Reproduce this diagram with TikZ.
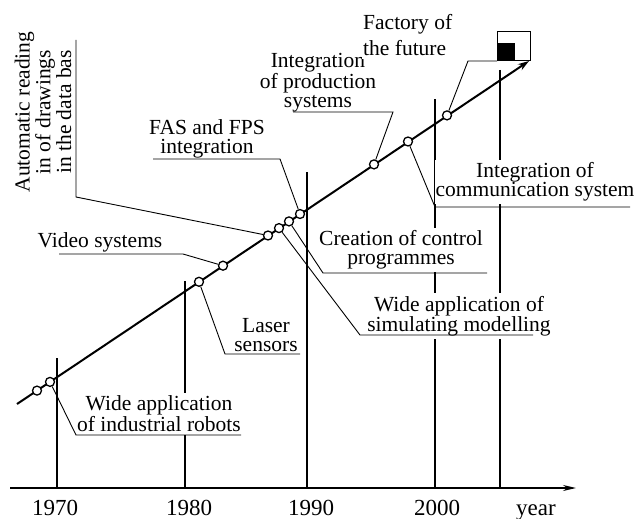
\documentclass[tikz,border=0pt]{standalone}
\usepackage{fontspec}
\setmainfont{Liberation Serif}
\newfontfamily\tms{Liberation Serif}
\usetikzlibrary{arrows.meta}
\begin{document}
\begin{tikzpicture}[x=1pt,y=-1pt,
  yearline/.style={line width=1.5pt},
  leader/.style={line width=0.9pt},
  mainline/.style={line width=2pt},
  dot/.style={circle,draw,fill=white,line width=1.3pt,inner sep=0pt,minimum size=9pt},
  lbl/.style={fill=white,align=center,inner xsep=1pt,inner ysep=3pt,font=\tms\fontsize{21.5}{19}\selectfont},
  yr/.style={anchor=base,inner sep=0pt,font=\tms\fontsize{23}{23}\selectfont}]
\useasboundingbox (0,0) rectangle (640,519);
\fill[white] (0,0) rectangle (640,519);

% year lines
\coordinate (t70) at (57,358);  \coordinate (b70) at (57,488);
\coordinate (t80) at (185,281); \coordinate (b80) at (185,488);
\coordinate (t90) at (307,172); \coordinate (b90) at (307,488);
\coordinate (t00) at (435,99);  \coordinate (b00) at (435,488);
\coordinate (t05) at (500,70);  \coordinate (b05) at (500,488);
\foreach \n in {70,80,90,00,05} \draw[yearline] (t\n) -- (b\n);

% axis
\coordinate (ax0) at (10,488);
\coordinate (ax1) at (576,488);
\draw[yearline,-{Stealth[length=13pt,width=6pt]}] (ax0) -- (ax1);

% main line
\coordinate (m0) at (17,404);
\coordinate (m1) at (529,61);
\draw[mainline,-{Stealth[length=11pt,width=7pt]}] (m0) -- (m1);

% leader coordinates
\coordinate (r1) at (76,435);  \coordinate (r2) at (241,435);
\coordinate (l1) at (225,354); \coordinate (l2) at (300,354);
\coordinate (v1) at (59,254);  \coordinate (v2) at (183,254);
\coordinate (a1) at (76,40);   \coordinate (a2) at (76,197);
\coordinate (f1) at (153,159); \coordinate (f2) at (280,159);
\coordinate (k1) at (323,273); \coordinate (k2) at (487,273);
\coordinate (s1) at (360,335); \coordinate (s2) at (533,335);
\coordinate (p1) at (293,112); \coordinate (p2) at (393,112);
\coordinate (q1) at (435,207); \coordinate (q2) at (630,207);
\coordinate (g1) at (468,61);

% labels (white background hides the year lines)
\node[lbl] (robots) at (159,414) {Wide application\\of industrial robots};
\node[lbl] (laser) at (266,335) {Laser\\sensors};
\node[lbl] (video) at (100,242) {Video systems};
\node[lbl,rotate=90] (auto) at (43,112) {Automatic reading\\in of drawings\\in the data bas};
\node[lbl] (fas) at (207,139) {FAS and FPS\\integration};
\node[lbl] (creation) at (401,250) {Creation of control\\programmes};
\node[lbl] (simul) at (459,316) {Wide application of\\simulating modelling};
\node[lbl] (prod) at (318,83) {Integration\\of production\\systems};
\node[lbl] (comm) at (535,182) {Integration of\\communication system};
\node[lbl,align=left,anchor=west,font=\tms\fontsize{21.5}{26}\selectfont] (factory) at (362,35) {Factory of\\the future};

% box
\node[draw,line width=1.3pt,minimum width=33pt,minimum height=29pt,inner sep=0pt,anchor=south west] (box) at (497,61) {};
\fill (box.south west) rectangle ++(18,-18);

% circles
\node[dot] (c1) at (37,390.6) {};
\node[dot] (c2) at (50,381.9) {};
\node[dot] (c3) at (199,281.8) {};
\node[dot] (c4) at (223,265.7) {};
\node[dot] (c5) at (268,235.5) {};
\node[dot] (c6) at (279,228.1) {};
\node[dot] (c7) at (289,221.4) {};
\node[dot] (c8) at (300,214.0) {};
\node[dot] (c9) at (374,164.4) {};
\node[dot] (c10) at (408,141.5) {};
\node[dot] (c11) at (447,115.4) {};

% leaders
\draw[leader] (c2) -- (r1) -- (r2);
\draw[leader] (c3) -- (l1) -- (l2);
\draw[leader] (v1) -- (v2) -- (c4);
\draw[leader] (a1) -- (a2) -- (c5);
\draw[leader] (f1) -- (f2) -- (c8);
\draw[leader] (c7) -- (k1) -- (k2);
\draw[leader] (c6) -- (s1) -- (s2);
\draw[leader] (p1) -- (p2) -- (c9);
\draw[leader] (c10) -- (q1) -- (q2);
\draw[leader] (c11) -- (g1) -- (box.south west);

% year labels
\node[yr] (y70) at (55,515) {1970};
\node[yr] (y80) at (189,515) {1980};
\node[yr] (y90) at (311,515) {1990};
\node[yr] (y00) at (437,515) {2000};
\node[yr] (yy) at (536,515) {year};
\end{tikzpicture}
\end{document}
